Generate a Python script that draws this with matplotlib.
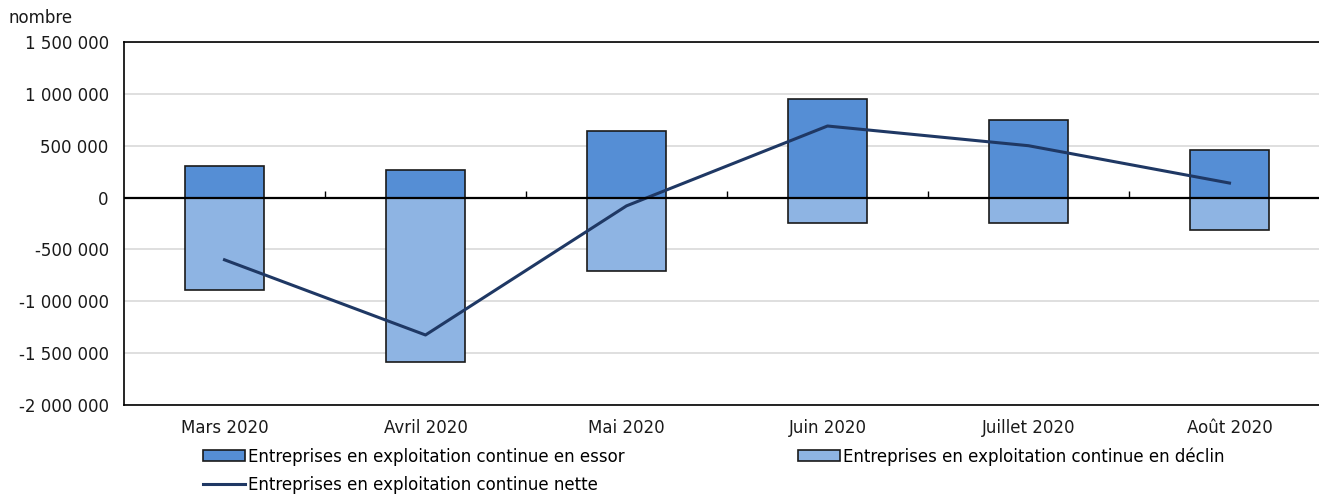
import numpy as np
import matplotlib.pyplot as plt
from matplotlib.ticker import FuncFormatter

# valeurs
mois = ["Mars 2020", "Avril 2020", "Mai 2020", "Juin 2020", "Juillet 2020", "Août 2020"]
essor = [300000, 262000, 638000, 948000, 745000, 455000]
declin = [-890000, -1586000, -706000, -242000, -242000, -309000]
nette = [-600000, -1325000, -80000, 690000, 500000, 140000]

lab_essor = "Entreprises en exploitation continue en essor"
lab_declin = "Entreprises en exploitation continue en déclin"
lab_nette = "Entreprises en exploitation continue nette"

plt.rcParams['font.family'] = ['DejaVu Sans']
fs = 12

fig = plt.figure(figsize=(13.19, 4.94), dpi=100)
# l'axe dépasse à droite comme dans l'image d'origine
ax = fig.add_axes([124/1319, 1-405/494, (1330-124)/1319, (405-42)/494])

x = np.arange(len(mois))
w = 0.39
b1 = ax.bar(x, essor, w, color="#558ED5", edgecolor="#1a1a1a", linewidth=1.2, zorder=3, label=lab_essor)
b2 = ax.bar(x, declin, w, color="#8EB4E3", edgecolor="#1a1a1a", linewidth=1.2, zorder=3, label=lab_declin)
l1, = ax.plot(x, nette, color="#1F3864", linewidth=2.2, zorder=4, label=lab_nette)

ax.set_xlim(-0.5, len(mois)-0.5)
ax.set_ylim(-2000000, 1500000)
ax.set_yticks(np.arange(-2000000, 1500001, 500000))
ax.yaxis.set_major_formatter(FuncFormatter(lambda v, p: f"{int(v):,}".replace(",", " ")))
ax.grid(axis='y', color="#d9d9d9", linewidth=1.2, zorder=0)
ax.axhline(0, color="black", linewidth=1.6, zorder=5)
# petites marques entre les catégories sur l'axe zéro
ax.vlines(x[:-1]+0.5, 0, 68000, color="black", linewidth=1, zorder=5)

ax.set_xticks(x)
ax.set_xticklabels(mois)
ax.tick_params(axis='x', length=0, pad=10, labelsize=fs, colors="#1a1a1a")
ax.tick_params(axis='y', length=0, pad=11, labelsize=fs, colors="#1a1a1a")
for s in ['left', 'bottom', 'top']:
    ax.spines[s].set_color("black")
    ax.spines[s].set_linewidth(1.2)
ax.spines['right'].set_visible(False)

fig.text(8/1319, 1-18/494, "nombre", fontsize=fs, va='center', ha='left', color="#1a1a1a")

leg = fig.legend(handles=[b1, l1, b2], labels=[lab_essor, lab_nette, lab_declin], ncol=2,
                 loc='upper left', bbox_to_anchor=(203/1319, 1-447/494), frameon=False,
                 handlelength=2.5, handleheight=0.6, handletextpad=0.2,
                 columnspacing=10.4, labelspacing=0.6, borderpad=0, borderaxespad=0,
                 prop={'family': ['DejaVu Sans'], 'size': fs})

fig.savefig("out.png", dpi=100)
